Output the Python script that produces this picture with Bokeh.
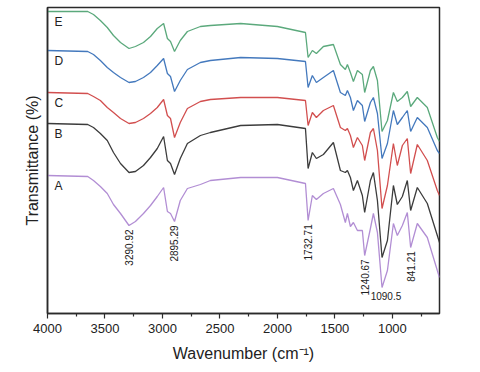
from bokeh.plotting import figure
from bokeh.models import Range1d, FixedTicker
from bokeh.core.properties import value
from bokeh.embed import file_html
from bokeh.resources import INLINE
import numpy as np

# Wavenumber grid (cm-1) shared by all spectra
wavenumber = [4000, 3650, 3600, 3540, 3480, 3426, 3365, 3291, 3235, 3165, 3104, 3045,
              2990, 2957, 2930, 2895, 2845, 2783, 2670, 2583, 2320, 2000, 1756, 1733,
              1696, 1661, 1600, 1513, 1452, 1409, 1391, 1365, 1339, 1304, 1261, 1241,
              1191, 1165, 1130, 1090, 1043, 991, 957, 913, 870, 841, 783, 696, 609, 590]

# Offset transmittance (arbitrary units)
spec_E = [302, 302, 299, 293, 286, 278, 271, 265, 267, 271, 277, 285, 290, 275, 272, 262,
          273, 282, 287, 288, 290, 287, 281, 256, 263, 260, 267, 269, 249, 244, 249, 241,
          232, 243, 239, 221, 243, 247, 233, 182, 193, 221, 212, 216, 222, 207, 216, 206,
          176, 172]
spec_D = [263, 262, 259, 253, 246, 241, 236, 231, 232, 236, 241, 248, 255, 240, 237, 222,
          233, 244, 251, 253, 256, 255, 252, 226, 238, 231, 236, 243, 221, 218, 223, 216,
          203, 213, 208, 192, 211, 216, 200, 155, 170, 203, 189, 196, 203, 182, 196, 186,
          163, 160]
spec_C = [221, 220, 217, 213, 206, 201, 195, 190, 191, 195, 200, 206, 214, 198, 195, 176,
          191, 205, 212, 214, 216, 216, 213, 188, 201, 196, 203, 208, 186, 183, 185, 178,
          166, 176, 168, 153, 181, 185, 163, 105, 128, 170, 148, 168, 175, 140, 169, 153,
          123, 118]
spec_B = [190, 189, 186, 180, 173, 161, 150, 141, 142, 148, 156, 165, 177, 153, 150, 139,
          155, 170, 178, 181, 188, 189, 185, 145, 161, 155, 159, 171, 143, 141, 143, 136,
          123, 133, 118, 101, 133, 141, 113, 56, 73, 128, 109, 117, 133, 103, 126, 110,
          78, 71]
spec_A = [138, 137, 133, 127, 120, 109, 100, 88, 92, 100, 108, 117, 126, 102, 100, 92,
          113, 125, 129, 133, 136, 136, 130, 93, 118, 114, 120, 125, 109, 91, 100, 87,
          91, 83, 83, 58, 85, 100, 81, 26, 43, 90, 78, 88, 101, 66, 90, 76,
          43, 36]

series_names = ["A", "B", "C", "D", "E"]
series_colors = ["#b28ed4", "#3c3c3c", "#d24f4f", "#4479bd", "#5ba97c"]
series_values = [spec_A, spec_B, spec_C, spec_D, spec_E]

# Peak annotations on spectrum A
peak_vertical = [3290.92, 2895.29, 1732.71, 1240.67, 841.21]
peak_vertical_labels = ["3290.92", "2895.29", "1732.71", "1240.67", "841.21"]
peak_horizontal = [1090.5]
peak_horizontal_labels = ["1090.5"]

x_ticks = [4000, 3500, 3000, 2500, 2000, 1500, 1000]
x_minor = [3750, 3250, 2750, 2250, 1750, 1250, 750]

FONT = "Liberation Sans"

p = figure(width=472, height=364, x_range=Range1d(4000, 590), y_range=Range1d(0, 306),
           output_backend="svg", toolbar_location=None,
           min_border_left=47, min_border_right=33, min_border_top=7, min_border_bottom=51)
p.background_fill_color = "white"
p.border_fill_color = "white"
p.xgrid.visible = False
p.ygrid.visible = False
p.outline_line_color = "#2a2a2a"
p.outline_line_width = 1.5

for name, col, vals in zip(series_names, series_colors, series_values):
    p.line(wavenumber, vals, line_color=col, line_width=1.3)

# Series letters just below each spectrum's left end
lab_x = [3940] * len(series_names)
lab_y = [v[0] - 10 for v in series_values]
p.text(x=lab_x, y=lab_y, text=series_names, text_font=value(FONT),
       text_font_size="12px", text_color="#222222", text_align="left",
       text_baseline="middle")

# Vertical peak labels
wn_rev = np.array(wavenumber[::-1], dtype=float)
a_rev = np.array(spec_A[::-1], dtype=float)
pv_y = list(np.interp(peak_vertical, wn_rev, a_rev))
p.text(x=peak_vertical, y=pv_y, text=peak_vertical_labels, angle=np.pi / 2,
       text_font=value(FONT), text_font_size="10px", text_color="#222222",
       text_align="right", text_baseline="middle", y_offset=4)
ph_y = list(np.interp(peak_horizontal, wn_rev, a_rev))
p.text(x=peak_horizontal, y=ph_y, text=peak_horizontal_labels,
       text_font=value(FONT), text_font_size="10px", text_color="#222222",
       text_align="center", text_baseline="top", x_offset=4, y_offset=5)

xa = p.xaxis[0]
xa.ticker = FixedTicker(ticks=x_ticks, minor_ticks=x_minor)
xa.axis_label = "Wavenumber (cm\u207b\u00b9)"
xa.axis_label_text_font = FONT
xa.axis_label_text_font_size = "16px"
xa.axis_label_text_font_style = "normal"
xa.axis_label_text_color = "#222222"
xa.axis_label_standoff = 9
xa.major_label_text_font = FONT
xa.major_label_text_font_size = "13px"
xa.major_label_text_color = "#222222"
xa.major_tick_in = 0
xa.major_tick_out = 5
xa.minor_tick_in = 0
xa.minor_tick_out = 3
xa.axis_line_width = 1.5
xa.axis_line_color = "#2a2a2a"
xa.major_tick_line_color = "#2a2a2a"
xa.minor_tick_line_color = "#2a2a2a"
xa.major_tick_line_width = 1.2
xa.minor_tick_line_width = 1.2

ya = p.yaxis[0]
ya.ticker = FixedTicker(ticks=[], minor_ticks=[])
ya.axis_label = "Transmittance (%)"
ya.axis_label_text_font = FONT
ya.axis_label_text_font_size = "16px"
ya.axis_label_text_font_style = "normal"
ya.axis_label_text_color = "#222222"
ya.axis_label_standoff = 7
ya.major_label_standoff = 0
ya.major_tick_out = 0
ya.major_tick_in = 0
ya.minor_tick_out = 0
ya.minor_tick_in = 0
ya.axis_line_width = 1.5
ya.axis_line_color = "#2a2a2a"

open("out.html", "w").write(file_html(p, INLINE))
